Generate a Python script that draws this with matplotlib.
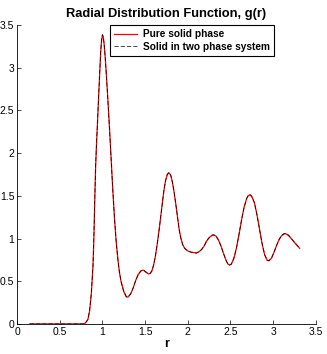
import numpy as np
import matplotlib.pyplot as plt

plt.rcParams['font.family'] = ['Liberation Sans', 'DejaVu Sans']

# g(r)
r = [0.15, 0.40, 0.60, 0.78, 0.80, 0.83, 0.85, 0.87, 0.89, 0.90, 0.91, 0.92,
     0.93, 0.94, 0.95, 0.96, 0.97, 0.98, 0.99, 1.00, 1.01, 1.02, 1.03, 1.04,
     1.06, 1.08, 1.10, 1.12, 1.14, 1.16, 1.18, 1.20, 1.22, 1.25, 1.28, 1.30,
     1.33, 1.36, 1.39, 1.42, 1.45, 1.48, 1.51, 1.54, 1.56, 1.58, 1.60, 1.62,
     1.64, 1.66, 1.68, 1.70, 1.72, 1.74, 1.76, 1.78, 1.80, 1.82, 1.84, 1.86,
     1.88, 1.90, 1.92, 1.94, 1.96, 1.98, 2.01, 2.04, 2.07, 2.10, 2.13, 2.16,
     2.19, 2.22, 2.25, 2.28, 2.30, 2.33, 2.36, 2.39, 2.42, 2.45, 2.47, 2.49,
     2.51, 2.54, 2.57, 2.60, 2.63, 2.66, 2.69, 2.71, 2.73, 2.75, 2.78, 2.81,
     2.84, 2.87, 2.90, 2.93, 2.95, 2.98, 3.01, 3.04, 3.07, 3.10, 3.13, 3.15,
     3.18, 3.22, 3.26, 3.31]
g_pure = [0, 0, 0, 0, 0.01, 0.05, 0.15, 0.35, 0.68, 1.0, 1.42, 1.82,
          2.08, 2.3, 2.53, 2.75, 2.97, 3.18, 3.32, 3.38, 3.36, 3.28, 3.16, 3.02,
          2.7, 2.35, 1.98, 1.6, 1.26, 0.98, 0.77, 0.6, 0.49, 0.38, 0.315, 0.315,
          0.35, 0.42, 0.51, 0.58, 0.62, 0.63, 0.605, 0.585, 0.59, 0.62, 0.69, 0.79,
          0.92, 1.07, 1.23, 1.4, 1.56, 1.68, 1.75, 1.77, 1.74, 1.66, 1.54, 1.4,
          1.25, 1.1, 1.0, 0.93, 0.89, 0.87, 0.85, 0.84, 0.835, 0.83, 0.845, 0.87,
          0.91, 0.97, 1.01, 1.035, 1.04, 1.03, 0.98, 0.91, 0.82, 0.74, 0.70, 0.69,
          0.70, 0.77, 0.89, 1.05, 1.22, 1.37, 1.47, 1.505, 1.51, 1.49, 1.42, 1.28,
          1.11, 0.94, 0.81, 0.745, 0.74, 0.77, 0.84, 0.92, 0.99, 1.035, 1.055, 1.055,
          1.035, 0.99, 0.94, 0.885]
g_two = [0, 0, 0, 0, 0.01, 0.05, 0.16, 0.36, 0.69, 1.01, 1.43, 1.83,
         2.09, 2.31, 2.54, 2.76, 2.98, 3.19, 3.33, 3.39, 3.37, 3.28, 3.16, 3.01,
         2.69, 2.34, 1.97, 1.6, 1.26, 0.98, 0.77, 0.6, 0.49, 0.38, 0.32, 0.32,
         0.35, 0.42, 0.51, 0.58, 0.62, 0.63, 0.61, 0.59, 0.595, 0.625, 0.69, 0.79,
         0.92, 1.07, 1.23, 1.4, 1.56, 1.68, 1.755, 1.775, 1.745, 1.66, 1.54, 1.4,
         1.25, 1.1, 1.0, 0.93, 0.89, 0.87, 0.85, 0.84, 0.835, 0.83, 0.845, 0.87,
         0.91, 0.97, 1.01, 1.04, 1.045, 1.035, 0.98, 0.91, 0.82, 0.74, 0.70, 0.69,
         0.70, 0.77, 0.89, 1.05, 1.22, 1.37, 1.47, 1.51, 1.515, 1.495, 1.42, 1.28,
         1.11, 0.94, 0.81, 0.745, 0.74, 0.77, 0.84, 0.92, 0.99, 1.04, 1.06, 1.06,
         1.04, 0.99, 0.945, 0.89]

fig = plt.figure(figsize=(3.27, 3.54), dpi=100)
ax = fig.add_axes([0.052, 0.085, 0.914, 0.844])

ax.plot(r, g_pure, color='red', lw=0.9, label='Pure solid phase')
ax.plot(r, g_two, color='black', lw=0.5, ls=(0, (6, 3)),
        label='Solid in two phase system')

ax.set_xlim(0, 3.5)
ax.set_ylim(0, 3.5)
ax.set_xticks(np.arange(0, 3.51, 0.5))
ax.set_yticks(np.arange(0, 3.51, 0.5))
ax.set_xticklabels(['0', '0.5', '1', '1.5', '2', '2.5', '3', '3.5'])
ax.set_yticklabels(['0', '0.5', '1', '1.5', '2', '2.5', '3', '3.5'])
ax.tick_params(direction='in', length=3, width=0.5, labelsize=7.5, pad=2)
for s in ['top', 'right']:
    ax.spines[s].set_visible(False)
for s in ['left', 'bottom']:
    ax.spines[s].set_linewidth(0.6)

ax.set_title('Radial Distribution Function, g(r)', fontsize=9.3, fontweight='bold', pad=6)
ax.set_xlabel('r', fontsize=9, fontweight='bold', labelpad=1)

leg = ax.legend(loc='upper left', bbox_to_anchor=(0.311, 1.0), fancybox=False,
                framealpha=1, edgecolor='black', borderpad=0.4, labelspacing=0.25,
                handlelength=2.3, handletextpad=0.6, borderaxespad=0,
                prop={'size': 7.3, 'weight': 'bold'})
leg.get_frame().set_linewidth(0.8)

fig.savefig('out.png', dpi=100)
